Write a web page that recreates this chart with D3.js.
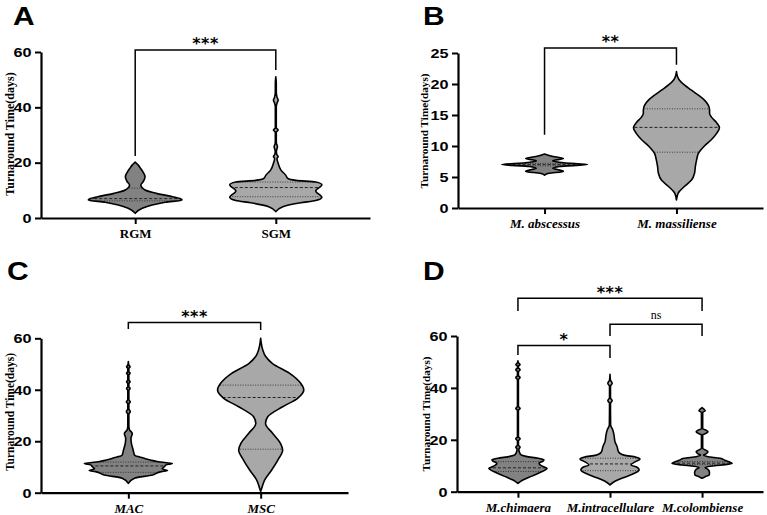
<!DOCTYPE html>
<html><head><meta charset="utf-8">
<script src="https://cdn.jsdelivr.net/npm/d3@7"></script>
<style>body{margin:0;background:#fff}svg{display:block}</style>
</head><body>
<svg id="c" width="767" height="515"></svg>
<script>
// ---------------- DATA ----------------
// Panel A
const catsA = ["RGM", "SGM"];
const ticksA = [0, 20, 40, 60];
// violin profiles: [value (days), relative density 0..1]
const rgmProfile = [[1.7,0],[3.5,.15],[4.7,.36],[5.7,.64],[6.5,1],[7.1,.94],[7.9,.74],[8.9,.45],[10.1,.21],[11.9,.12],[13.1,.17],[14.9,.21],[16.5,.17],[17.8,.12],[19.2,.06],[20.2,0]];
const sgmProfile = [[2.3,0],[4.1,.15],[5.5,.53],[6.3,.85],[7.5,.98],[9.8,.85],[12,.98],[13,.85],[13.6,.43],[14.2,.26],[15.5,.21],[17.3,.11],[19.8,.05],[21.5,.025],[22.2,.05],[23,.02],[24,.012],[25.8,.035],[27,.012],[28.2,.01],[31,.01],[31.8,.05],[32.6,.01],[35.4,.01],[40.2,.01],[41.5,.025],[42.6,.05],[43.7,.025],[45.6,.01],[48.7,.01],[51,0]];
const quartA = [[6.2, 7, 10.8], [7.7, 11, 13]]; // q1, median, q3
const bracketsA = [["RGM", "SGM", 60.7, 22.4, 53.5, "***"]]; // from, to, top, left leg end, right leg end, label

// Panel B
const catsB = ["M. abscessus", "M. massiliense"];
const ticksB = [0, 5, 10, 15, 20, 25];
const abscessusProfile = [[5.3,0],[5.6,.1],[5.9,.44],[6.2,.3],[6.4,.19],[6.7,.35],[7.0,1],[7.3,.45],[7.6,.19],[8.0,.44],[8.3,.2],[8.7,0]];
const massilienseProfile = [[1.3,0],[2.4,.04],[3.5,.19],[4.5,.35],[5.6,.42],[6.7,.44],[7.8,.47],[8.8,.51],[10,.65],[11,.81],[12,.93],[12.95,1],[13.8,.93],[14.7,.81],[15.3,.77],[15.8,.77],[16.6,.74],[17.4,.65],[18.2,.51],[19,.35],[19.8,.19],[20.6,.07],[21.3,.02],[22,0]];
const quartB = [[6.8, 7, 7.2], [9, 13, 16]];
const bracketsB = [["M. abscessus", "M. massiliense", 25.8, 11.8, 23.1, "**"]];

// Panel C
const catsC = ["MAC", "MSC"];
const ticksC = [0, 20, 40, 60];
const macProfile = [[3.6,0],[5.6,.14],[6.9,.55],[8.2,.75],[8.6,.89],[9.3,.77],[10.1,.82],[10.8,.86],[11.3,1],[12,.68],[12.7,.5],[13.4,.36],[14.6,.14],[16.6,.11],[19.2,.07],[21.1,.06],[23,.09],[24.5,.025],[26,.012],[30.5,.012],[31.5,.045],[32.5,.012],[34.5,.012],[35.3,.045],[36.2,.012],[39.7,.012],[40.5,.04],[41.3,.012],[42.4,.012],[43.1,.04],[43.8,.012],[45.8,.012],[46.4,.04],[47.1,.012],[48.3,.012],[48.9,.04],[49.6,.012],[51,0]];
const mscProfile = [[0.5,0],[1.5,.02],[4.9,.09],[8.8,.25],[12.7,.39],[16.6,.5],[19.2,.45],[23.1,.27],[26.9,.11],[29.5,.16],[33.4,.5],[36.7,.84],[39.9,.98],[42.5,.91],[46.4,.66],[50.2,.27],[53,.11],[55.4,.05],[60,0]];
const quartC = [[7.9, 10.4, 11.9], [16.9, 37, 41.8]];
const bracketsC = [["MAC", "MSC", 66.1, 63.6, 63.2, "***"]];

// Panel D
const catsD = ["M.chimaera", "M.intracellulare", "M.colombiense"];
const ticksD = [0, 20, 40, 60];
const chimaeraProfile = [[3.2,0],[4.5,.16],[6,.45],[7.4,.71],[8.3,.87],[9,.94],[9.7,.81],[10.9,.68],[11.8,.81],[12.3,.84],[12.9,.65],[13.6,.26],[14.2,.1],[15.5,.04],[16.4,.03],[17.2,.07],[18,.015],[19.6,.015],[20.4,.07],[21.2,.015],[31.3,.015],[32.1,.07],[32.9,.015],[43.2,.015],[44,.07],[44.8,.015],[46.2,.015],[47,.07],[47.8,.015],[48.3,.015],[49,.07],[49.7,.015],[50.4,0]];
const intracellulareProfile = [[2.6,0],[4,.16],[5.5,.45],[7,.77],[8.4,.94],[9.4,.87],[10.3,.68],[11.5,.81],[12.6,.97],[13.3,.84],[14.1,.45],[14.8,.32],[15.5,.27],[17.3,.23],[19.3,.16],[21.8,.13],[23.8,.09],[25.7,.02],[34,.015],[35.1,.07],[36.2,.015],[40.6,.015],[41.8,.07],[43,.015],[45.2,0]];
const colombienseProfile = [[5.2,0],[5.8,.1],[6.4,.23],[7.5,.24],[8.6,.19],[9.3,.1],[9.8,.26],[10.3,.65],[10.9,.97],[11.5,.87],[12.1,.74],[12.9,.58],[13.5,.19],[14.1,.05],[14.6,.13],[15.4,.19],[16.1,.1],[16.7,.02],[21.9,.02],[22.5,.13],[23.1,.19],[23.7,.13],[24.3,.02],[30.5,.02],[31.2,.1],[31.8,.06],[32.4,0]];
const quartD = [[7.8, 9.2, 11.6], [8.1, 10.7, 12.9], [10.5, 11, 11.6]];
const bracketsD = [
  ["M.chimaera", "M.intracellulare", 56.3, 52.7, 51.5, "*"],
  ["M.chimaera", "M.colombiense", 74.5, 69.6, 69.6, "***"],
  ["M.intracellulare", "M.colombiense", 64.5, 60, 60, "ns"]
];

const yTitle = "Turnaround Time(days)";
const DARK = "#828282", LIGHT = "#a8a8a8";

// ---------------- DRAWING ----------------
const svg = d3.select("#c");
const SANS = "Arial, 'Liberation Sans', Helvetica, sans-serif";
const SERIF = "'Times New Roman', 'Liberation Serif', serif";

function drawPanel(p) {
  const g = svg.append("g");
  const y = d3.scaleLinear().domain([0, p.ymax]).range([p.yBottom, p.yTop]);
  const x = d3.scalePoint().domain(p.cats).range([p.xLeft, p.xRight]).padding(p.pad);
  const w = d3.scaleLinear().domain([0, 1]).range([0, p.maxHW]);

  p.profiles.forEach((prof, i) => {
    const cx = x(p.cats[i]);
    const area = d3.area().curve(d3.curveMonotoneY)
      .y(d => y(d[0])).x0(d => cx - w(d[1])).x1(d => cx + w(d[1]));
    const id = "clip" + p.id + i;
    g.append("clipPath").attr("id", id).append("path").attr("d", area(prof));
    g.append("path").attr("d", area(prof)).attr("fill", p.fills[i]);
    g.append("g").attr("clip-path", `url(#${id})`)
      .selectAll("line").data(p.quart[i]).join("line")
      .attr("x1", cx - p.maxHW - 4).attr("x2", cx + p.maxHW + 4)
      .attr("y1", d => y(d)).attr("y2", d => y(d))
      .attr("stroke", "#222")
      .attr("stroke-width", (d, j) => j === 1 ? 1 : 0.8)
      .attr("stroke-dasharray", (d, j) => j === 1 ? "3,2" : "1,1.5");
    g.append("path").attr("d", area(prof)).attr("fill", "none")
      .attr("stroke", "#000").attr("stroke-width", 1.6).attr("stroke-linejoin", "round");
  });

  // y axis
  const ya = g.append("g").attr("transform", `translate(${p.xLeft},0)`)
    .call(d3.axisLeft(y).tickValues(p.ticks).tickSize(6).tickSizeOuter(0).tickPadding(2));
  ya.select(".domain").attr("stroke-width", 2.2).attr("stroke", "#000");
  ya.selectAll(".tick line").attr("stroke-width", 2).attr("stroke", "#000");
  ya.selectAll("text").attr("font-family", SANS).attr("font-weight", "bold")
    .attr("font-size", 13.5).attr("fill", "#000").attr("transform", "scale(1.2,1)");

  // x axis
  const xa = g.append("g").attr("transform", `translate(0,${p.yBottom})`)
    .call(d3.axisBottom(x).tickSize(6).tickSizeOuter(0).tickPadding(5));
  xa.select(".domain").attr("stroke-width", 2.2).attr("stroke", "#000");
  xa.selectAll(".tick line").attr("stroke-width", 2).attr("stroke", "#000");
  xa.selectAll("text").attr("font-family", SERIF).attr("font-weight", "bold")
    .attr("font-style", p.italic ? "italic" : "normal")
    .attr("font-size", 13).attr("fill", "#000");

  // y title
  g.append("text").attr("transform", `translate(${p.titleX},${p.titleY}) rotate(-90)`)
    .attr("text-anchor", "middle").attr("dominant-baseline", "central")
    .attr("font-family", SERIF).attr("font-weight", "bold").attr("font-size", p.titleSize)
    .attr("fill", "#000").text(yTitle);

  // panel letter
  g.append("text").attr("transform", `translate(${p.letterX},${p.letterY}) scale(1.2,1)`)
    .attr("font-family", SANS).attr("font-weight", "bold").attr("font-size", 25)
    .attr("fill", "#000").text(p.letter);

  // brackets
  p.brackets.forEach(b => {
    const xa0 = x(b[0]), xb0 = x(b[1]);
    g.append("path")
      .attr("d", `M${xa0},${y(b[3])}V${y(b[2])}H${xb0}V${y(b[4])}`)
      .attr("fill", "none").attr("stroke", "#000").attr("stroke-width", 1.5);
    const mx = (xa0 + xb0) / 2, top = y(b[2]);
    if (b[5] === "ns") {
      g.append("text").attr("x", mx).attr("y", top - 5).attr("text-anchor", "middle")
        .attr("font-family", SERIF).attr("font-size", 12).attr("fill", "#000").text(b[5]);
    } else {
      g.append("text").attr("x", mx).attr("y", top - 10 + 9.3).attr("text-anchor", "middle")
        .attr("font-family", "'DejaVu Sans', sans-serif").attr("font-weight", "bold")
        .attr("font-size", 16).attr("letter-spacing", 0.5).attr("fill", "#000").text(b[5]);
    }
  });
}

drawPanel({id: "A", letter: "A", letterX: 13, letterY: 25, cats: catsA, ticks: ticksA, ymax: 60,
  yBottom: 218, yTop: 52, xLeft: 41, xRight: 370, pad: 0.67, maxHW: 47,
  profiles: [rgmProfile, sgmProfile], quart: quartA, fills: [DARK, LIGHT], brackets: bracketsA,
  italic: false, titleX: 10, titleY: 134, titleSize: 12});

drawPanel({id: "B", letter: "B", letterX: 423, letterY: 25, cats: catsB, ticks: ticksB, ymax: 25,
  yBottom: 208, yTop: 53, xLeft: 458, xRight: 763, pad: 0.656, maxHW: 43,
  profiles: [abscessusProfile, massilienseProfile], quart: quartB, fills: [DARK, LIGHT], brackets: bracketsB,
  italic: true, titleX: 424, titleY: 131, titleSize: 11.2});

drawPanel({id: "C", letter: "C", letterX: 7, letterY: 280, cats: catsC, ticks: ticksC, ymax: 60,
  yBottom: 492.7, yTop: 338.3, xLeft: 41, xRight: 348, pad: 0.66, maxHW: 44,
  profiles: [macProfile, mscProfile], quart: quartC, fills: [DARK, LIGHT], brackets: bracketsC,
  italic: true, titleX: 10, titleY: 412, titleSize: 11.5});

drawPanel({id: "D", letter: "D", letterX: 423, letterY: 280, cats: catsD, ticks: ticksD, ymax: 60,
  yBottom: 491.7, yTop: 336, xLeft: 457, xRight: 763, pad: 0.662, maxHW: 31,
  profiles: [chimaeraProfile, intracellulareProfile, colombienseProfile], quart: quartD,
  fills: [DARK, LIGHT, DARK], brackets: bracketsD,
  italic: true, titleX: 426, titleY: 414, titleSize: 11.2});
</script>
</body></html>
